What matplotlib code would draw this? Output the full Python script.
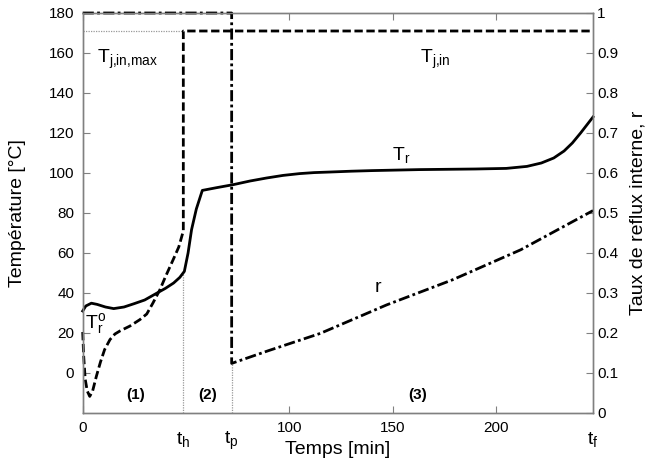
import matplotlib
matplotlib.use("Agg")
import matplotlib.pyplot as plt

plt.rcParams['font.family'] = ['Liberation Sans', 'DejaVu Sans']
plt.rcParams['mathtext.fontset'] = 'custom'
plt.rcParams['mathtext.rm'] = 'Liberation Sans'
plt.rcParams['mathtext.it'] = 'Liberation Sans'

# ---- data ----
t_h = 48.7
t_p = 72.1
t_f = 247.0
Tj_max = 171.0

tj_t = [0, 0.5, 1.2, 2.2, 3.4, 4.8, 6.6, 8.6, 10.6, 13.2, 15.6, 18, 22.9, 27.7, 31, 34, 37.4, 40, 43.8,
        46.5, 48.7, 48.7, 247]
tj_T = [20.5, 8, -3, -9, -11.7, -9, -1.7, 5.5, 11.7, 16.7, 19.5, 21, 23.5, 26.7, 29.5, 35, 41.7, 48, 56.7,
        63, 71, 171, 171]

tr_t = [0, 1.5, 4.2, 7, 11, 15, 20, 25, 30, 36, 40, 44, 47, 49.2, 51, 52.7, 55, 57.9, 65, 73, 81, 89, 97,
        105, 112, 120, 130, 140, 163, 190, 205, 215, 222, 228, 233, 237, 241, 244, 247]
tr_T = [31, 33.5, 34.9, 34.3, 33, 32.2, 33, 34.7, 36.5, 40, 42.3, 45, 47.8, 50.8, 60, 71.7, 82, 91.3, 92.7,
        94.2, 96, 97.5, 98.8, 99.7, 100.2, 100.5, 100.9, 101.2, 101.7, 102, 102.3, 103.3, 105, 107.5, 111,
        115, 120, 124, 128]

r_t = [0, 72.1, 72.1, 90, 115, 147, 179, 212, 247]
r_v = [1, 1, 0.124, 0.156, 0.199, 0.27, 0.333, 0.408, 0.506]

xticks = [0, 100, 150, 200]
yticks_left = [0, 20, 40, 60, 80, 100, 120, 140, 160, 180]
yticks_right = [0, 0.1, 0.2, 0.3, 0.4, 0.5, 0.6, 0.7, 0.8, 0.9, 1]
yticklabels_right = ['0', '0.1', '0.2', '0.3', '0.4', '0.5', '0.6', '0.7', '0.8', '0.9', '1']

fig = plt.figure(figsize=(6.47, 4.63), dpi=100)
ax = fig.add_axes([82.7/647, 50/463, (593-82.7)/647, 400/463])
ax2 = ax.twinx()

spine_c = '#808080'
for a in (ax, ax2):
    for s in a.spines.values():
        s.set_color(spine_c)
        s.set_linewidth(1.0)

ax.set_xlim(0, t_f)
ax.set_ylim(-20, 180)
ax2.set_ylim(0, 1)

# guide lines
ax.plot([0, t_h], [Tj_max, Tj_max], color='#999999', lw=0.9, ls=(0, (1, 1)))
ax.plot([t_h, t_h], [-20, 50.8], color='#999999', lw=0.9, ls=(0, (1, 1)))
ax2.plot([t_p, t_p], [0, 0.124], color='#999999', lw=0.9, ls=(0, (1, 1)))

ax.plot(tj_t, tj_T, color='black', lw=2.0, ls=(0, (3.0, 1.3)), clip_on=False)
ax.plot(tr_t, tr_T, color='black', lw=2.0, clip_on=False)
ax2.plot(r_t, r_v, color='black', lw=2.0, ls=(0, (4.0, 1.2, 1.0, 1.2)), clip_on=False)

ax.set_xticks(xticks)
ax.set_xticklabels([str(v) for v in xticks])
ax.set_yticks(yticks_left)
ax.set_yticklabels([str(v) for v in yticks_left])
ax2.set_yticks(yticks_right)
ax2.set_yticklabels(yticklabels_right)

ax.tick_params(axis='both', direction='in', length=5, width=0.8, color=spine_c,
               labelsize=11, top=True, pad=6)
ax2.tick_params(axis='y', direction='in', length=5, width=0.8, color=spine_c, labelsize=11, pad=3)

ax.set_xlabel('Temps [min]', fontsize=14)
ax.xaxis.set_label_coords(0.5, -0.07)
ax.set_ylabel('Température [°C]', fontsize=14)
ax.yaxis.set_label_coords(-0.112, 0.5)
ax2.set_ylabel('Taux de reflux interne, r', fontsize=14, labelpad=8)

# special tick labels
for tv, lab in [(t_h, r'$\mathrm{t_h}$'), (t_p, r'$\mathrm{t_p}$'), (t_f, r'$\mathrm{t_f}$')]:
    ax.annotate(lab, xy=(tv, 0), xycoords=('data', 'axes fraction'), xytext=(0, -12),
                textcoords='offset points', ha='center', va='top', fontsize=14, annotation_clip=False)

ax.text(7, 157, r'$\mathrm{T_{j{,}in{,}max}}$', fontsize=14, ha='left', va='center')
ax.text(163.3, 157, r'$\mathrm{T_{j{,}in}}$', fontsize=14, ha='left', va='center')
ax.text(149.5, 109, r'$\mathrm{T_r}$', fontsize=14, ha='left', va='center')
ax.text(143, 42.6, 'r', fontsize=14, ha='center', va='center')
ax.text(1.2, 25, r'$\mathrm{T_r^o}$', fontsize=14, ha='left', va='center')
ax.text(25.5, -11, '(1)', fontsize=11, fontweight='bold', ha='center', va='center')
ax.text(60.5, -11, '(2)', fontsize=11, fontweight='bold', ha='center', va='center')
ax.text(162, -11, '(3)', fontsize=11, fontweight='bold', ha='center', va='center')

fig.savefig('out.png', dpi=100)
